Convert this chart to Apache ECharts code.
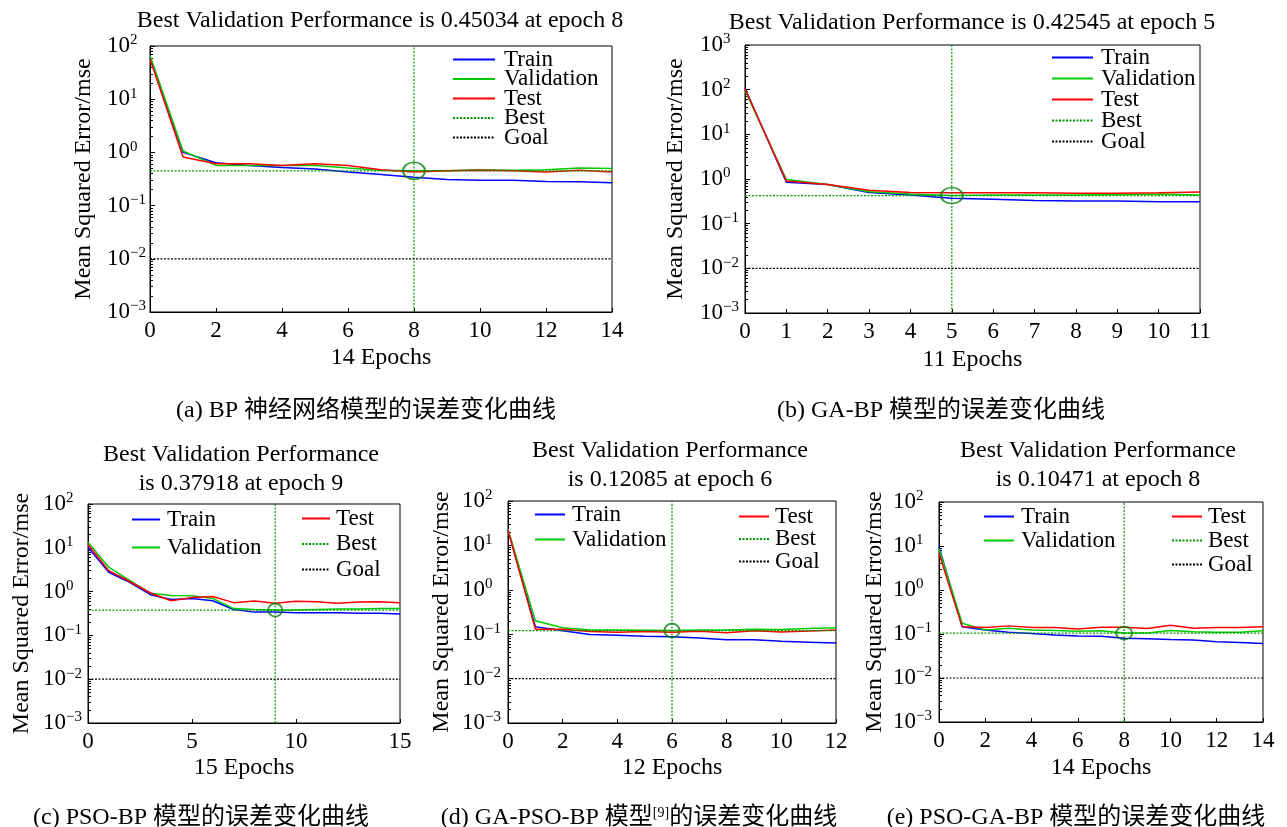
<!DOCTYPE html>
<html>
<head>
<meta charset="utf-8">
<script src="https://cdn.jsdelivr.net/npm/echarts@6.0.0/dist/echarts.min.js"></script>
<style>
  html, body { margin: 0; padding: 0; background: #fff; }
  #chart { width: 1287px; height: 827px; }
</style>
</head>
<body>
<div id="chart"></div>
<script>
// (a) BP
const trainBP = [62, 1.0, 0.64, 0.57, 0.52, 0.49, 0.43, 0.385, 0.34, 0.31, 0.30, 0.30, 0.285, 0.28, 0.27]
const validBP = [66, 1.06, 0.57, 0.57, 0.57, 0.57, 0.51, 0.46, 0.45034, 0.45, 0.47, 0.46, 0.47, 0.51, 0.50]
const testBP = [57, 0.82, 0.61, 0.61, 0.57, 0.61, 0.57, 0.47, 0.43, 0.45, 0.46, 0.45, 0.43, 0.46, 0.43]
// (b) GA-BP
const trainGA = [107, 0.85, 0.75, 0.5, 0.44, 0.37, 0.35, 0.33, 0.32, 0.32, 0.31, 0.31]
const validGA = [96, 0.97, 0.75, 0.52, 0.46, 0.42545, 0.44, 0.44, 0.44, 0.45, 0.46, 0.44]
const testGA = [105, 0.9, 0.75, 0.56, 0.5, 0.49, 0.49, 0.49, 0.48, 0.48, 0.49, 0.51]
// (c) PSO-BP
const trainPSO = [10.3, 2.76, 1.63, 0.85, 0.66, 0.7, 0.62, 0.39, 0.34, 0.34, 0.33, 0.33, 0.33, 0.32, 0.32, 0.31]
const validPSO = [13.4, 3.6, 1.8, 0.92, 0.81, 0.8, 0.7, 0.41, 0.39, 0.37918, 0.38, 0.39, 0.4, 0.4, 0.41, 0.41]
const testPSO = [11.9, 3.0, 1.7, 0.93, 0.62, 0.73, 0.77, 0.56, 0.61, 0.54, 0.6, 0.59, 0.54, 0.58, 0.59, 0.56]
// (d) GA-PSO-BP
const trainGAPSO = [22, 0.148, 0.12, 0.099, 0.095, 0.09, 0.088, 0.082, 0.075, 0.075, 0.069, 0.066, 0.063]
const validGAPSO = [23, 0.2, 0.14, 0.125, 0.124, 0.123, 0.12085, 0.124, 0.124, 0.13, 0.128, 0.135, 0.14]
const testGAPSO = [22, 0.13, 0.13, 0.115, 0.11, 0.115, 0.11, 0.117, 0.108, 0.12, 0.112, 0.118, 0.125]
// (e) PSO-GA-BP
const trainPSOGA = [9.6, 0.147, 0.123, 0.11, 0.103, 0.095, 0.09, 0.089, 0.08, 0.078, 0.075, 0.073, 0.067, 0.064, 0.061]
const validPSOGA = [8.7, 0.175, 0.123, 0.135, 0.123, 0.12, 0.115, 0.118, 0.10471, 0.106, 0.12, 0.112, 0.11, 0.11, 0.118]
const testPSOGA = [6.8, 0.147, 0.14, 0.153, 0.14, 0.14, 0.13, 0.143, 0.143, 0.133, 0.158, 0.135, 0.14, 0.14, 0.147]

const bestEpochs = [8, 5, 9, 6, 8]
const bestValues = [0.45034, 0.42545, 0.37918, 0.12085, 0.10471]
const goalValue = 0.01
const epochCounts = [14, 11, 15, 12, 14]
const yMaxes = [100, 1000, 100, 100, 100]
const xIntervals = [2, 1, 5, 2, 2]

const titles = [
  'Best Validation Performance is 0.45034 at epoch 8',
  'Best Validation Performance is 0.42545 at epoch 5',
  'Best Validation Performance\nis 0.37918 at epoch 9',
  'Best Validation Performance\nis 0.12085 at epoch 6',
  'Best Validation Performance\nis 0.10471 at epoch 8',
]
const captions = [
  '(a) BP 神经网络模型的误差变化曲线',
  '(b) GA-BP 模型的误差变化曲线',
  '(c) PSO-BP 模型的误差变化曲线',
  '{t|(d) GA-PSO-BP 模型}{s|[9]}{t|的误差变化曲线}',
  '(e) PSO-GA-BP 模型的误差变化曲线',
]

const panels = [
  [trainBP, validBP, testBP],
  [trainGA, validGA, testGA],
  [trainPSO, validPSO, testPSO],
  [trainGAPSO, validGAPSO, testGAPSO],
  [trainPSOGA, validPSOGA, testPSOGA],
]

const FONT = '"Liberation Serif", "Times New Roman", serif'
const CJK = '"Liberation Serif", "Noto Sans CJK SC", serif'

const gridBoxes = [
  { left: 150, top: 46, width: 462, height: 266 },
  { left: 745, top: 45, width: 455, height: 268 },
  { left: 88, top: 504, width: 312, height: 219 },
  { left: 508, top: 501, width: 328, height: 222 },
  { left: 939, top: 502, width: 324, height: 220 },
]
const titlePos = [[380, 6], [972, 8], [241, 440], [670, 436], [1098, 436]]
const captionPos = [[366, 399], [941, 399], [201, 806], [639, 806], [1076, 806]]
const yNameGap = [54, 57, 54, 54, 52]
const yLabelGap = [43, 45, 45, 46, 46]
const xNameGap = [34, 35, 33, 33, 34]
const circleSizes = [[22, 17], [22, 16], [14, 13], [15, 14], [16, 13]]

const pairs = (arr) => arr.map((v, i) => [i, v])

const supFormatter = (value) => {
  const exp = Math.round(Math.log10(value))
  const txt = exp < 0 ? '\u2212' + Math.abs(exp) : String(exp)
  return '{b|10}{s|' + txt + '}'
}

const grid = gridBoxes.map((g) => ({
  ...g,
  show: true,
  borderColor: '#000',
  borderWidth: 1,
  backgroundColor: '#fff',
}))

const xAxis = gridBoxes.map((g, i) => ({
  type: 'value',
  gridIndex: i,
  min: 0,
  max: epochCounts[i],
  interval: xIntervals[i],
  name: epochCounts[i] + ' Epochs',
  nameLocation: 'middle',
  nameGap: xNameGap[i],
  nameTextStyle: { fontFamily: FONT, fontSize: 24, color: '#000' },
  axisLine: { lineStyle: { color: '#000', width: 1 } },
  axisTick: { inside: true, length: 4, lineStyle: { color: '#000' } },
  axisLabel: { fontFamily: FONT, fontSize: 23, color: '#000', margin: 7 },
  splitLine: { show: false },
}))

const yAxis = gridBoxes.map((g, i) => ({
  type: 'log',
  logBase: 10,
  gridIndex: i,
  min: 0.001,
  max: yMaxes[i],
  name: 'Mean Squared Error/mse',
  nameLocation: 'middle',
  nameGap: yNameGap[i],
  nameTextStyle: { fontFamily: FONT, fontSize: 24, color: '#000' },
  axisLine: { lineStyle: { color: '#000', width: 1 } },
  axisTick: { inside: true, length: 5, lineStyle: { color: '#000' } },
  minorTick: { show: true, splitNumber: 9, length: 3, lineStyle: { color: '#000' } },
  axisLabel: {
    margin: yLabelGap[i],
    align: 'left',
    formatter: supFormatter,
    rich: {
      b: { fontFamily: FONT, fontSize: 23, color: '#000', lineHeight: 26 },
      s: { fontFamily: FONT, fontSize: 15, color: '#000', lineHeight: 15, verticalAlign: 'top' },
    },
  },
  splitLine: { show: false },
}))

const lineBase = { type: 'line', symbol: 'none', showSymbol: false, silent: true, animation: false }

const series = []
panels.forEach(([tr, va, te], i) => {
  const ax = { xAxisIndex: i, yAxisIndex: i }
  const n = epochCounts[i]
  series.push(
    { ...lineBase, ...ax, name: 'Train', data: pairs(tr), lineStyle: { color: '#0000ff', width: 1.5 }, itemStyle: { color: '#0000ff' }, z: 3 },
    { ...lineBase, ...ax, name: 'Validation', data: pairs(va), lineStyle: { color: '#00cc00', width: 1.5 }, itemStyle: { color: '#00cc00' }, z: 4 },
    { ...lineBase, ...ax, name: 'Test', data: pairs(te), lineStyle: { color: '#ff0000', width: 1.5 }, itemStyle: { color: '#ff0000' }, z: 5 },
    { ...lineBase, ...ax, name: 'Best', data: [[0, bestValues[i]], [n, bestValues[i]]], lineStyle: { color: '#009a00', width: 1.2, type: [2, 1.5] }, itemStyle: { color: '#009a00' }, z: 6 },
    { ...lineBase, ...ax, name: 'Best', data: [[bestEpochs[i], 0.001], [bestEpochs[i], yMaxes[i]]], lineStyle: { color: '#009a00', width: 1.2, type: [2, 1.5] }, itemStyle: { color: '#009a00' }, z: 6 },
    { ...lineBase, ...ax, name: 'Goal', data: [[0, goalValue], [n, goalValue]], lineStyle: { color: '#000', width: 1.2, type: [2, 1.5] }, itemStyle: { color: '#000' }, z: 6 },
    {
      type: 'scatter', ...ax, name: 'bestPoint', silent: true, animation: false,
      data: [[bestEpochs[i], bestValues[i]]],
      symbol: 'circle', symbolSize: circleSizes[i],
      itemStyle: { color: 'rgba(0,0,0,0)', borderColor: '#0b7d0b', borderWidth: 1.8 },
      z: 7,
    }
  )
})

// legend rows: text height is 23, so itemGap = row spacing - 23
const legendText = (pad) => ({ fontFamily: FONT, fontSize: 23, color: '#000', lineHeight: 23, padding: [0, 0, 0, pad] })
const legendBase = {
  orient: 'vertical', selectedMode: false, padding: 0, itemHeight: 4, z: 10,
  itemStyle: { opacity: 0 },
}
const legend = [
  { ...legendBase, left: 452, top: 48, itemGap: -3.5, itemWidth: 42, textStyle: legendText(4), data: ['Train', 'Validation', 'Test', 'Best', 'Goal'] },
  { ...legendBase, left: 1051, top: 46, itemGap: -2, itemWidth: 41, textStyle: legendText(3), data: ['Train', 'Validation', 'Test', 'Best', 'Goal'] },
  { ...legendBase, left: 131, top: 508, itemGap: 5, itemWidth: 28, textStyle: legendText(2), data: ['Train', 'Validation'] },
  { ...legendBase, left: 301, top: 507, itemGap: 2.5, itemWidth: 28, textStyle: legendText(1), data: ['Test', 'Best', 'Goal'] },
  { ...legendBase, left: 534, top: 503, itemGap: 2, itemWidth: 30, textStyle: legendText(2), data: ['Train', 'Validation'] },
  { ...legendBase, left: 738, top: 505, itemGap: -0.5, itemWidth: 30, textStyle: legendText(1), data: ['Test', 'Best', 'Goal'] },
  { ...legendBase, left: 983, top: 505, itemGap: 1, itemWidth: 30, textStyle: legendText(2), data: ['Train', 'Validation'] },
  { ...legendBase, left: 1171, top: 505, itemGap: 1, itemWidth: 30, textStyle: legendText(1), data: ['Test', 'Best', 'Goal'] },
]

const title = [
  ...titles.map((t, i) => ({
    text: t,
    left: titlePos[i][0],
    top: titlePos[i][1],
    textAlign: 'center',
    padding: 0,
    textStyle: { fontFamily: FONT, fontSize: 24, fontWeight: 'normal', color: '#000', lineHeight: 29 },
  })),
  ...captions.map((t, i) => ({
    text: t,
    left: captionPos[i][0],
    top: captionPos[i][1],
    textAlign: 'center',
    padding: 0,
    textStyle: {
      fontFamily: CJK, fontSize: 24, fontWeight: 'normal', color: '#000', lineHeight: 24,
      rich: {
        t: { fontFamily: CJK, fontSize: 24, color: '#000', lineHeight: 24 },
        s: { fontFamily: CJK, fontSize: 14, color: '#000', lineHeight: 14, verticalAlign: 'top' },
      },
    },
  })),
]

const chart = echarts.init(document.getElementById('chart'))
chart.setOption({
  animation: false,
  backgroundColor: '#fff',
  title,
  legend,
  grid,
  xAxis,
  yAxis,
  series,
})
</script>
</body>
</html>
